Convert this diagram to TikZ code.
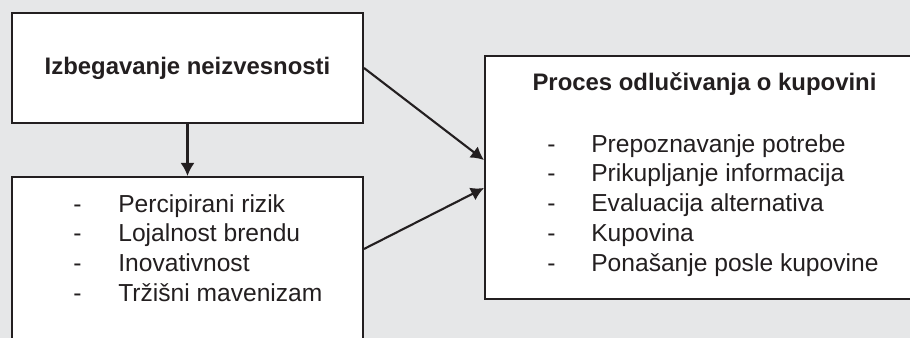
\documentclass[tikz,border=0pt]{standalone}
\usepackage{fontspec}
\setmainfont{Liberation Sans}
\usepackage{xcolor}
\usetikzlibrary{arrows.meta}
\definecolor{bggray}{RGB}{230,231,232}
\definecolor{ink}{RGB}{35,31,32}

\begin{document}
\begin{tikzpicture}[x=0.02cm, y=-0.02cm,
  box/.style={draw=ink, fill=white, line width=1.2pt, inner sep=0pt},
  headtext/.style={font=\fontsize{13.6}{17}\selectfont\bfseries, text=ink},
  listtext/.style={font=\fontsize{14}{17}\selectfont, text=ink, anchor=base west, inner sep=0pt},
  strelica/.style={>={Latex[length=0.26cm, width=0.28cm]}, ->, line width=1.2pt, color=ink}]

\useasboundingbox (0,0) rectangle (910,338);
\clip (0,0) rectangle (910,338);
\fill[bggray] (0,0) rectangle (910,338);

% boxes (the lower one and the right one run past the edge)
\node[box, minimum width=7.02cm, minimum height=2.2cm, headtext] (izbegavanje) at (187.5,68) {Izbegavanje neizvesnosti};
\node[box, minimum width=7.02cm, minimum height=4.46cm] (faktori) at (187.5,288.5) {};
\node[box, minimum width=9.5cm, minimum height=4.86cm] (proces) at (722.5,177.5) {};

\node[listtext] (faktoriLista) at (73,212) {\begin{tabular}[t]{@{}p{0.9cm}@{}l@{}}
- & Percipirani rizik\\
- & Lojalnost brendu\\
- & Inovativnost\\
- & Tržišni mavenizam
\end{tabular}};

\node[headtext, anchor=base] (procesNaslov) at (704.5,91) {Proces odlučivanja o kupovini};
\node[listtext] (procesLista) at (547,152) {\begin{tabular}[t]{@{}p{0.88cm}@{}l@{}}
- & Prepoznavanje potrebe\\
- & Prikupljanje informacija\\
- & Evaluacija alternativa\\
- & Kupovina\\
- & Ponašanje posle kupovine
\end{tabular}};

% arrows
\draw[strelica] (izbegavanje.south) -- (faktori.north);
\draw[strelica] (izbegavanje.east) -- ([yshift=0.35cm]proces.west);
\draw[strelica] ([yshift=-1.46cm]faktori.north east) -- ([yshift=-0.21cm]proces.west);

\end{tikzpicture}
\end{document}
